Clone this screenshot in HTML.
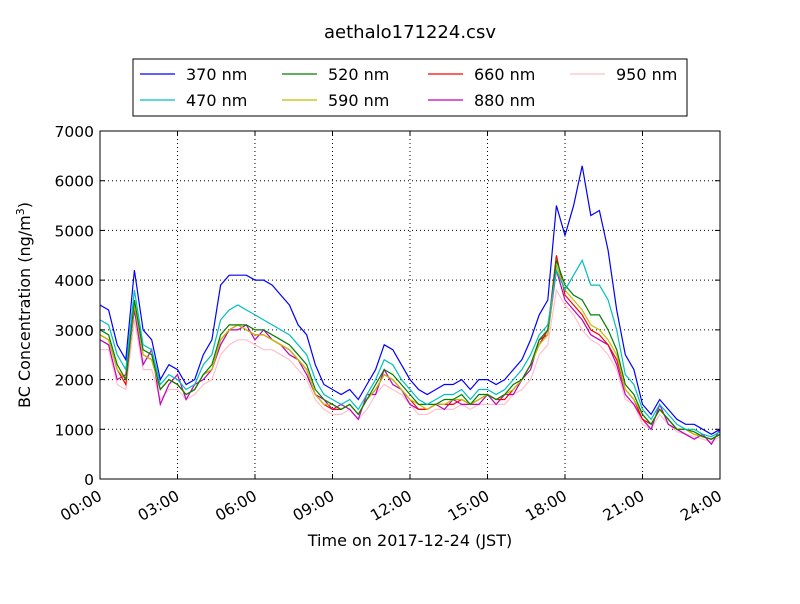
<!DOCTYPE html>
<html><head><meta charset="utf-8"><style>
body{margin:0;background:#fff;font-family:"DejaVu Sans","Liberation Sans",sans-serif}
svg text{font-family:"DejaVu Sans","Liberation Sans",sans-serif}
</style></head><body>
<svg id="chart" width="800" height="600" xmlns="http://www.w3.org/2000/svg">
<rect width="800" height="600" fill="#fff"/>
<text x="410" y="38" font-size="18" text-anchor="middle">aethalo171224.csv</text>
<g id="grid"></g>
<g id="series"></g>
<rect x="100" y="131" width="620" height="348" fill="none" stroke="#000" stroke-width="1"/>
<g id="axes"></g>
<text x="410" y="546" font-size="16" text-anchor="middle">Time on 2017-12-24 (JST)</text>
<text transform="translate(30,305) rotate(-90)" font-size="16" text-anchor="middle">BC Concentration (ng/m<tspan baseline-shift="super" font-size="11">3</tspan>)</text>
<g id="legend">
<rect x="133" y="59" width="554" height="57" fill="#fff" stroke="#000"/>
</g>
</svg>
<script>
const hours = [];
for (let i = 0; i <= 72; i++) hours.push(i / 3);
const s370 = [3500,3400,2700,2400,4200,3000,2800,2000,2300,2200,1900,2000,2500,2800,3900,4100,4100,4100,4000,4000,3900,3700,3500,3100,2900,2300,1900,1800,1700,1800,1600,1900,2200,2700,2600,2300,2000,1800,1700,1800,1900,1900,2000,1800,2000,2000,1900,2000,2200,2400,2800,3300,3600,5500,4900,5500,6300,5300,5400,4600,3400,2500,2200,1500,1300,1600,1400,1200,1100,1100,1000,900,1000];
const s470 = [3200,3100,2500,2200,3800,2700,2600,1900,2100,2000,1800,1900,2300,2500,3200,3400,3500,3400,3300,3200,3100,3000,2900,2700,2500,2000,1700,1600,1500,1600,1400,1700,2000,2400,2300,2000,1800,1600,1500,1600,1700,1700,1800,1600,1800,1800,1700,1800,2000,2200,2500,2900,3100,4200,3800,4100,4400,3900,3900,3600,3000,2100,1900,1400,1200,1500,1300,1100,1000,1000,900,850,950];
const s520 = [3000,2900,2300,2000,3600,2600,2500,1800,2000,1900,1700,1800,2100,2300,2900,3100,3100,3100,3000,3000,2900,2800,2700,2500,2300,1800,1600,1500,1400,1500,1300,1600,1900,2200,2100,1900,1700,1500,1500,1500,1600,1600,1700,1500,1700,1700,1600,1700,1900,2000,2300,2800,3000,4400,3900,3700,3600,3300,3300,3000,2600,1900,1700,1300,1100,1400,1200,1000,1000,950,850,800,900];
const s590 = [2900,2800,2200,2000,3500,2500,2400,1800,2000,1900,1700,1800,2100,2200,2800,3000,3100,3000,2900,2900,2800,2700,2600,2400,2200,1700,1500,1500,1400,1500,1300,1600,1800,2100,2000,1800,1600,1500,1400,1500,1500,1600,1600,1500,1600,1700,1600,1700,1800,2000,2300,2700,2900,4300,3800,3600,3400,3100,3000,2800,2500,1800,1600,1300,1100,1400,1200,1000,1000,900,850,800,900];
const s660 = [2900,2800,2200,1900,3500,2500,2400,1800,2000,1900,1700,1800,2100,2200,2800,3000,3100,3000,2900,2900,2800,2700,2600,2400,2200,1700,1500,1400,1400,1500,1300,1600,1800,2100,2000,1800,1600,1400,1400,1500,1500,1500,1600,1500,1600,1700,1600,1600,1800,2000,2300,2700,3000,4500,3700,3500,3300,3000,2900,2700,2400,1800,1600,1200,1100,1400,1200,1000,1000,900,850,800,900];
const s880 = [2800,2700,2000,2100,3400,2300,2600,1500,1900,2100,1600,1900,2000,2200,2700,3000,3000,3100,2800,3000,2800,2700,2500,2400,2100,1700,1600,1400,1500,1400,1200,1700,1700,2200,1900,1800,1500,1400,1400,1500,1400,1600,1500,1500,1500,1700,1500,1700,1700,2000,2200,2800,2900,4200,3600,3400,3200,2900,2800,2700,2300,1700,1500,1200,1000,1500,1100,1000,900,800,900,700,1000];
const s950 = [2600,2600,1900,1800,3200,2200,2200,1600,1800,1800,1600,1700,1900,2000,2500,2700,2800,2800,2700,2600,2600,2500,2400,2200,2000,1600,1400,1300,1300,1400,1200,1400,1700,1900,1800,1700,1500,1300,1300,1400,1400,1400,1500,1400,1500,1500,1500,1500,1700,1800,2000,2500,2700,3800,3500,3300,3000,2800,2700,2500,2200,1600,1500,1100,1000,1300,1100,950,900,850,800,750,850];
const seriesNames = ["370 nm","470 nm","520 nm","590 nm","660 nm","880 nm","950 nm"];
const seriesData = [s370,s470,s520,s590,s660,s880,s950];
const seriesColors = ["#0000ff","#00bfbf","#008000","#bfbf00","#ff0000","#bf00bf","#ffc0cb"];
const yTicks = [0,1000,2000,3000,4000,5000,6000,7000];
const xTickHours = [0,3,6,9,12,15,18,21,24];
const xTickLabels = ["00:00","03:00","06:00","09:00","12:00","15:00","18:00","21:00","24:00"];

const NS = "http://www.w3.org/2000/svg";
const X0 = 100, X1 = 720, Y0 = 479, Y1 = 131;
const xScale = h => X0 + (h / 24) * (X1 - X0);
const yScale = v => Y0 - (v / 7000) * (Y0 - Y1);
function mk(tag, attrs, parent) {
  const e = document.createElementNS(NS, tag);
  for (const k in attrs) e.setAttribute(k, attrs[k]);
  parent.appendChild(e);
  return e;
}
const grid = document.getElementById("grid");
const axes = document.getElementById("axes");
yTicks.forEach(v => {
  const y = yScale(v);
  if (v > 0 && v < 7000) {
    const g = mk("line", {x1: X0, x2: X1, y1: y, y2: y, stroke: "#000", "stroke-dasharray": "1,3", "stroke-width": 1}, grid);
    
    
  }
  const t1 = mk("line", {x1: X0, x2: X0 + 5, y1: y, y2: y, stroke: "#000"}, axes);
  
  
  mk("line", {x1: X1 - 5, x2: X1, y1: y, y2: y, stroke: "#000"}, axes);
  const lb = mk("text", {x: X0 - 6, y: y + 6, "font-size": 15.5, "text-anchor": "end"}, axes);
  lb.textContent = v;
  
  
});
xTickHours.forEach((h, i) => {
  const x = xScale(h);
  if (h > 0 && h < 24) {
    const g = mk("line", {x1: x, x2: x, y1: Y1, y2: Y0, stroke: "#000", "stroke-dasharray": "1,3", "stroke-width": 1}, grid);
    
    
  }
  mk("line", {x1: x, x2: x, y1: Y0, y2: Y0 - 5, stroke: "#000"}, axes);
  mk("line", {x1: x, x2: x, y1: Y1, y2: Y1 + 5, stroke: "#000"}, axes);
  const lb = mk("text", {x: 0, y: 0, "font-size": 15.5, "text-anchor": "end", transform: `translate(${x + 3},${Y0 + 20}) rotate(-30)`}, axes);
  lb.textContent = xTickLabels[i];
  
  
});
const sg = document.getElementById("series");
for (let s = seriesData.length - 1; s >= 0; s--) {
  const pts = seriesData[s].map((v, i) => xScale(hours[i]).toFixed(1) + "," + yScale(v).toFixed(1)).join(" ");
  const pl = mk("polyline", {points: pts, fill: "none", stroke: seriesColors[s], "stroke-width": 1.2}, sg);
  
  
}
const lg = document.getElementById("legend");
const colX = [140, 282, 428, 570];
seriesNames.forEach((n, i) => {
  const col = Math.floor(i / 2), row = i % 2;
  const y = 74 + row * 26, x = colX[col];
  mk("line", {x1: x, x2: x + 35, y1: y, y2: y, stroke: seriesColors[i], "stroke-width": 1.2}, lg);
  const t = mk("text", {x: x + 46, y: y + 6, "font-size": 16}, lg);
  t.textContent = n;
  
  
});
</script>
</body></html>
